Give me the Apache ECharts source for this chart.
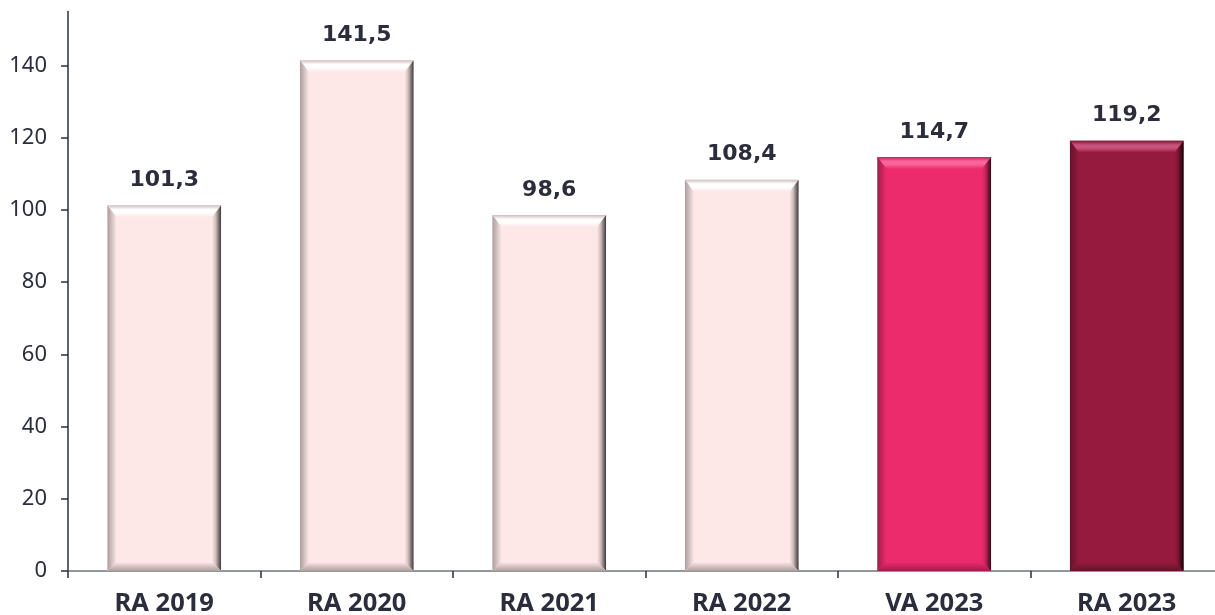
<!DOCTYPE html>
<html lang="pt">
<head>
    <meta charset="utf-8">
    <title>RA / VA</title>
    <style>
        html, body { margin: 0; padding: 0; background: #fff; }
        #main { width: 1215px; height: 615px; }
    </style>
</head>
<body>
<div id="main"></div>
<script src="https://cdn.jsdelivr.net/npm/echarts@6/dist/echarts.min.js"></script>
<script>
// data
var categories = ['RA 2019', 'RA 2020', 'RA 2021', 'RA 2022', 'VA 2023', 'RA 2023'];
var values = [101.3, 141.5, 98.6, 108.4, 114.7, 119.2];
var yTicks = [0, 20, 40, 60, 80, 100, 120, 140];

// styling: base / light top / dark side, one entry per bar
var palette = [
    { base: '#fde7e7', top: '#ffffff', side: '#3f3a3c' },
    { base: '#fde7e7', top: '#ffffff', side: '#3f3a3c' },
    { base: '#fde7e7', top: '#ffffff', side: '#3f3a3c' },
    { base: '#fde7e7', top: '#ffffff', side: '#3f3a3c' },
    { base: '#ec2b6c', top: '#f9649a', side: '#2e0c19' },
    { base: '#951a3e', top: '#c8537a', side: '#16040a' }
];

var chart = echarts.init(document.getElementById('main'));

function grad(x0, y0, x1, y1, stops) {
    return new echarts.graphic.LinearGradient(x0, y0, x1, y1, stops);
}

// multiply rgb by k (k < 1 darkens)
function shade(hex, k) {
    var c = echarts.color.parse(hex);
    return 'rgb(' + Math.round(c[0] * k) + ',' + Math.round(c[1] * k) + ',' + Math.round(c[2] * k) + ')';
}

function renderBar(params, api) {
    var i = api.value(0);
    var v = api.value(1);
    var topPt = api.coord([i, v]);
    var botPt = api.coord([i, 0]);
    var w = api.size([1, 0])[0] * 0.59;
    var xl = topPt[0] - w / 2, xr = topPt[0] + w / 2;
    var yt = topPt[1], yb = botPt[1];
    var bt = 12, bs = 9, bb = 9;
    var c = palette[i];
    var dim = shade(c.base, 0.82);
    var dim2 = shade(c.base, 0.68);
    return {
        type: 'group',
        children: [
            { type: 'rect', shape: { x: xl, y: yt, width: w, height: yb - yt }, style: { fill: c.base } },
            // top bevel
            { type: 'polygon', shape: { points: [[xl, yt], [xr, yt], [xr - bs, yt + bt], [xl + bs, yt + bt]] },
              style: { fill: grad(0, 0, 0, 1, [{ offset: 0, color: dim }, { offset: 0.35, color: c.top }, { offset: 0.6, color: c.top }, { offset: 1, color: c.base }]) } },
            // left bevel
            { type: 'polygon', shape: { points: [[xl, yt], [xl + bs, yt + bt], [xl + bs, yb - bb], [xl, yb]] },
              style: { fill: grad(0, 0, 1, 0, [{ offset: 0, color: dim2 }, { offset: 1, color: c.base }]) } },
            // right bevel
            { type: 'polygon', shape: { points: [[xr, yt], [xr, yb], [xr - bs, yb - bb], [xr - bs, yt + bt]] },
              style: { fill: grad(0, 0, 1, 0, [{ offset: 0, color: c.base }, { offset: 0.4, color: dim }, { offset: 1, color: c.side }]) } },
            // bottom bevel
            { type: 'polygon', shape: { points: [[xl, yb], [xl + bs, yb - bb], [xr - bs, yb - bb], [xr, yb]] },
              style: { fill: grad(0, 0, 0, 1, [{ offset: 0, color: c.base }, { offset: 1, color: dim2 }]) } },
            {
                type: 'text',
                x: topPt[0], y: yt - 14,
                style: {
                    text: v.toFixed(1).replace('.', ','),
                    fill: '#2b2d3c',
                    font: 'bold 22px "DejaVu Sans"',
                    align: 'center',
                    verticalAlign: 'bottom'
                }
            }
        ]
    };
}

chart.setOption({
    animation: false,
    grid: { left: 68, width: 1155, top: 11.5, bottom: 44, containLabel: false, outerBoundsMode: 'none' },
    xAxis: {
        type: 'category',
        data: categories,
        axisLine: { lineStyle: { color: '#72747f', width: 1.5 } },
        axisTick: { show: true, length: 7, lineStyle: { color: '#2b2e3e', width: 1.5 } },
        axisLabel: {
            margin: 20,
            color: '#2b2d3c',
            fontFamily: 'Noto Sans',
            fontWeight: 'bold',
            fontSize: 25.5
        },
        splitLine: { show: false }
    },
    yAxis: {
        type: 'value',
        min: 0,
        max: 155,
        interval: 20,
        axisLine: { show: true, lineStyle: { color: '#2b2e3e', width: 1.5 } },
        axisTick: { show: true, length: 7, customValues: yTicks, lineStyle: { color: '#2b2e3e', width: 1.5 } },
        axisLabel: {
            customValues: yTicks,
            margin: 21,
            color: '#2b2d3c',
            fontFamily: 'Noto Sans',
            fontSize: 22
        },
        splitLine: { show: false }
    },
    series: [{
        type: 'custom',
        renderItem: renderBar,
        encode: { x: 0, y: 1 },
        data: values.map(function (v, i) { return [i, v]; })
    }]
});
</script>
</body>
</html>
